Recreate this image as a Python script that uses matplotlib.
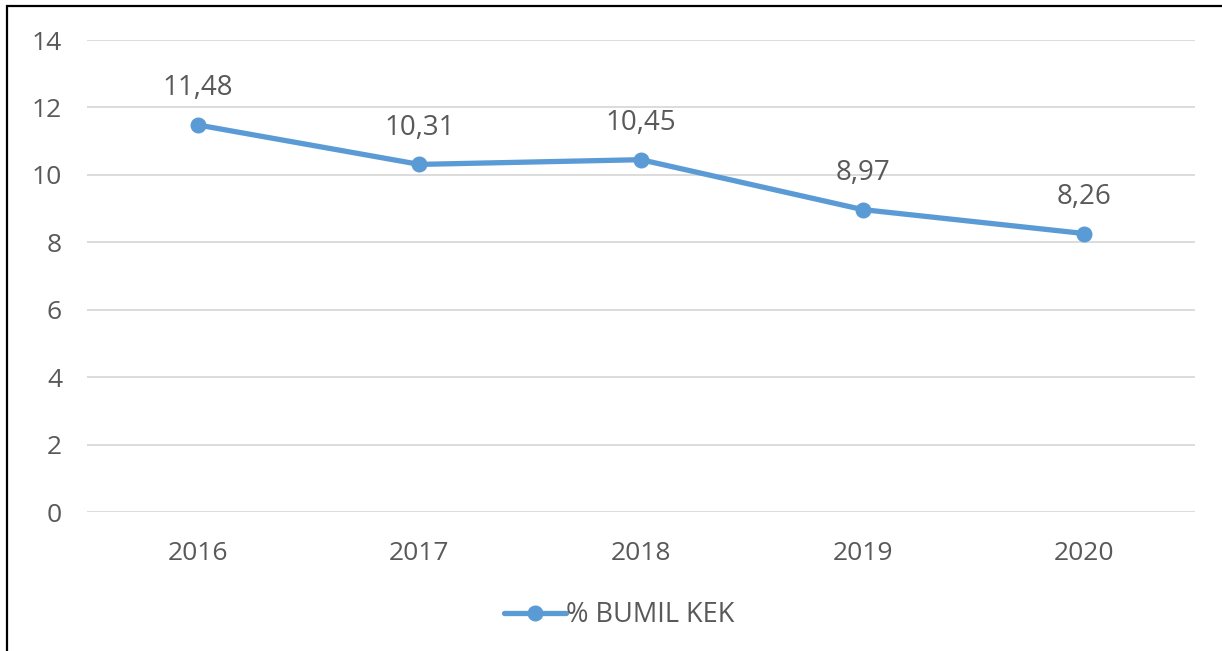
import matplotlib.pyplot as plt
from matplotlib.patches import Rectangle

years = ["2016", "2017", "2018", "2019", "2020"]
bumil_kek = [11.48, 10.31, 10.45, 8.97, 8.26]
y_ticks = [0, 2, 4, 6, 8, 10, 12, 14]
series_name = "% BUMIL KEK"

line_color = "#5B9BD5"
text_color = "#595959"
grid_color = "#D9D9D9"

plt.rcParams["font.family"] = ["Open Sans", "DejaVu Sans"]

fig = plt.figure(figsize=(12.22, 6.51), dpi=100)
ax = fig.add_axes([87 / 1222, 1 - 512 / 651, (1195 - 87) / 1222, (512 - 40) / 651])

x = list(range(len(years)))
ax.plot(x, bumil_kek, color=line_color, lw=3.8, marker="o", ms=10.5,
        solid_capstyle="round", label=series_name, zorder=3)

for xi, v in zip(x, bumil_kek):
    ax.annotate(f"{v:.2f}".replace(".", ","), (xi, v), xytext=(0, 26.5),
                textcoords="offset points", ha="center", va="center",
                fontsize=20, color=text_color)

ax.set_xlim(-0.5, len(years) - 0.5)
ax.set_ylim(0, 14)
ax.set_yticks(y_ticks)
ax.set_xticks(x)
ax.set_xticklabels(years)
ax.tick_params(axis="both", length=0, labelsize=19, labelcolor=text_color)
ax.tick_params(axis="x", pad=21)
ax.tick_params(axis="y", pad=18)
ax.grid(axis="y", color=grid_color, lw=1.3)
ax.set_axisbelow(True)
for s in ax.spines.values():
    s.set_visible(False)

leg = fig.legend(loc="center", bbox_to_anchor=(619 / 1222, 1 - 615 / 651),
                 frameon=False, fontsize=19.5, handlelength=2.3, handletextpad=0.0,
                 labelcolor=text_color)

# outer frame of the chart area
fig.patches.append(Rectangle((7 / 1222, -0.2), 1.2, 1.2 - 6 / 651,
                             transform=fig.transFigure, fill=False,
                             edgecolor="black", lw=1.6))

fig.savefig("out.png", dpi=100)
